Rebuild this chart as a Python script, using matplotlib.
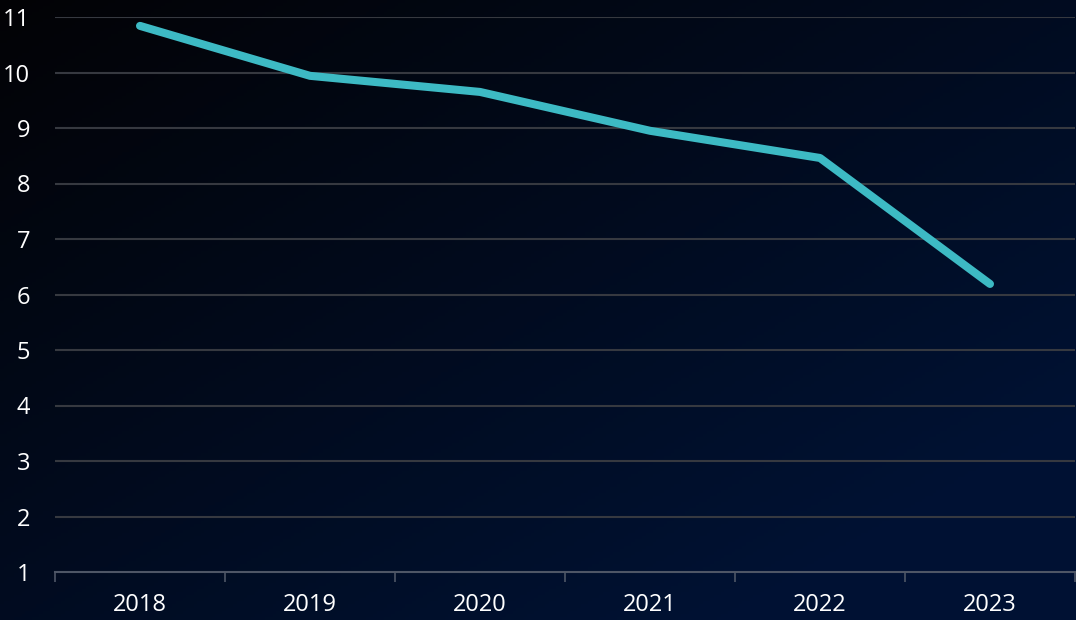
import matplotlib.pyplot as plt
import numpy as np

years = ['2018', '2019', '2020', '2021', '2022', '2023']
values = [10.84, 9.94, 9.65, 8.95, 8.46, 6.19]
y_ticks = list(range(1, 12))

plt.rcParams['font.family'] = ['Open Sans', 'DejaVu Sans']

fig = plt.figure(figsize=(10.76, 6.2), dpi=100)

# background gradient: black top-left to dark navy bottom-right
bg = fig.add_axes([0, 0, 1, 1], zorder=-10)
gx, gy = np.meshgrid(np.linspace(0, 1, 300), np.linspace(0, 1, 200))
t = np.clip((gx * 0.6 + gy * 0.6), 0, 1)
top = np.array([0.01, 0.01, 0.02])
bottom = np.array([0.0, 0.07, 0.2])
img = top[None, None, :] * (1 - t[..., None]) + bottom[None, None, :] * t[..., None]
bg.imshow(img, aspect='auto', extent=[0, 1, 0, 1])
bg.axis('off')

ax = fig.add_axes([55 / 1076, 48 / 620, 1020 / 1076, 555 / 620])
ax.patch.set_alpha(0)

x = np.arange(len(years))
ax.plot(x, values, color='#3DBAC4', lw=5.8, solid_capstyle='round',
        solid_joinstyle='round', zorder=3)

ax.set_xlim(-0.5, len(years) - 0.5)
ax.set_ylim(1, 11)
ax.set_yticks(y_ticks)
ax.set_xticks(x)
ax.set_xticklabels(years)
ax.set_xticks(np.arange(-0.5, len(years)), minor=True)

for yv in y_ticks[1:]:
    ax.axhline(yv, color='#363940', lw=1.5, zorder=1)

for s in ['top', 'right', 'left']:
    ax.spines[s].set_visible(False)
ax.spines['bottom'].set_color('#4e5666')
ax.spines['bottom'].set_linewidth(1.5)

ax.tick_params(axis='x', which='major', length=0, pad=15, labelsize=17, colors='white')
ax.tick_params(axis='x', which='minor', length=7, width=1.2, color='#4e5666', direction='out')
ax.tick_params(axis='y', length=0, pad=18, labelsize=17, colors='white')

fig.savefig('out.png', dpi=100)
